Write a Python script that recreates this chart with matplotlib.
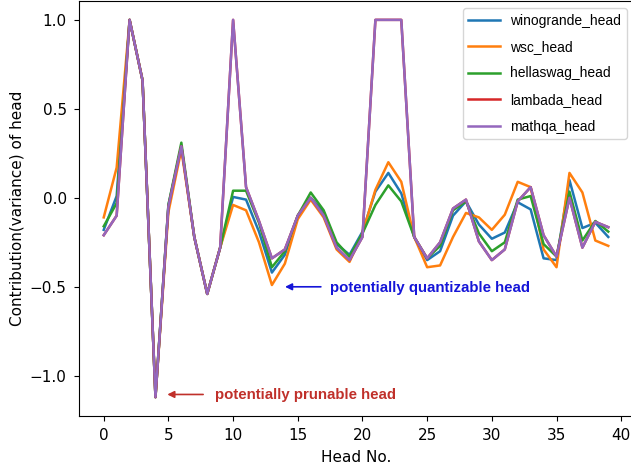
import matplotlib
matplotlib.use('Agg')
import matplotlib.pyplot as plt
import numpy as np

# head index 0..39
heads = np.arange(40)

winogrande = [-0.18, 0.01, 1.0, 0.66, -1.12, -0.04, 0.29, -0.22, -0.54, -0.28,
              0.005, -0.01, -0.19, -0.42, -0.32, -0.10, 0.0, -0.08, -0.26, -0.32,
              -0.19, 0.035, 0.14, 0.025, -0.22, -0.35, -0.30, -0.10, -0.02, -0.15,
              -0.23, -0.195, -0.025, -0.065, -0.34, -0.35, 0.10, -0.17, -0.14, -0.22]

wsc = [-0.11, 0.17, 1.0, 0.66, -1.12, -0.08, 0.27, -0.22, -0.54, -0.28,
       -0.04, -0.07, -0.25, -0.49, -0.37, -0.12, -0.01, -0.11, -0.29, -0.36,
       -0.20, 0.045, 0.20, 0.09, -0.22, -0.39, -0.38, -0.22, -0.085, -0.11,
       -0.18, -0.095, 0.09, 0.06, -0.29, -0.39, 0.14, 0.03, -0.24, -0.27]

hellaswag = [-0.16, -0.03, 1.0, 0.66, -1.12, -0.04, 0.31, -0.22, -0.54, -0.28,
             0.04, 0.04, -0.14, -0.39, -0.30, -0.10, 0.03, -0.07, -0.25, -0.33,
             -0.20, -0.04, 0.07, -0.02, -0.22, -0.34, -0.27, -0.07, -0.02, -0.20,
             -0.30, -0.25, -0.01, 0.01, -0.26, -0.33, 0.035, -0.24, -0.13, -0.19]

mathqa = [-0.21, -0.10, 1.0, 0.66, -1.12, -0.05, 0.29, -0.22, -0.54, -0.28,
          1.0, 0.06, -0.13, -0.34, -0.29, -0.10, 0.0, -0.10, -0.28, -0.35,
          -0.22, 1.0, 1.0, 1.0, -0.22, -0.34, -0.25, -0.06, -0.01, -0.245,
          -0.35, -0.29, -0.02, 0.06, -0.21, -0.33, 0.0, -0.28, -0.135, -0.165]

# lambada sits right under mathqa in the picture
lambada = list(mathqa)

series = [('winogrande_head', winogrande), ('wsc_head', wsc),
          ('hellaswag_head', hellaswag), ('lambada_head', lambada),
          ('mathqa_head', mathqa)]

fig = plt.figure(figsize=(6.31, 4.67), dpi=100)
ax = fig.add_axes([78.5 / 631, 51 / 467, 555 / 631, 415 / 467])

for name, vals in series:
    ax.plot(heads, vals, label=name, lw=1.8)

ax.tick_params(labelsize=11, pad=5)
ax.set_xlabel('Head No.', fontsize=11, labelpad=5)
ax.set_ylabel('Contribution(variance) of head', fontsize=11)
ax.legend(loc='upper right', prop={'family': 'Liberation Sans', 'size': 10},
          handlelength=2.3, labelspacing=0.9, handletextpad=0.7)

# annotations
red = '#c0302a'
blue = '#1515d8'
ax.annotate('', xy=(4.7, -1.105), xytext=(7.9, -1.105),
            arrowprops=dict(arrowstyle='-|>', color=red, lw=1.2))
ax.text(8.6, -1.11, 'potentially prunable head', color=red,
        family='Liberation Sans', fontsize=10.8, fontweight='bold',
        va='center', ha='left')

ax.annotate('', xy=(13.8, -0.50), xytext=(17.0, -0.50),
            arrowprops=dict(arrowstyle='-|>', color=blue, lw=1.2))
ax.text(17.5, -0.505, 'potentially quantizable head', color=blue,
        family='Liberation Sans', fontsize=10.8, fontweight='bold',
        va='center', ha='left')

fig.savefig('out.png', dpi=100)
